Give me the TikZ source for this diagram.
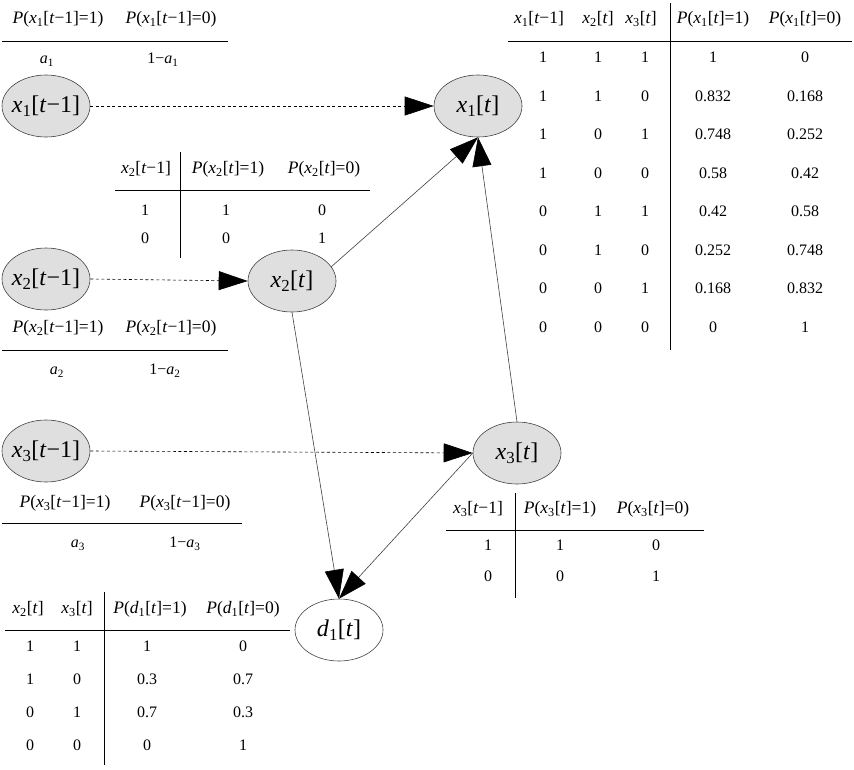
\documentclass[tikz,border=0pt]{standalone}
\usepackage{fontspec}
\setmainfont{Liberation Serif}
\usetikzlibrary{shapes.geometric,arrows.meta}

% notation helpers
\newcommand{\vr}[2]{\textit{#1}\textsubscript{#2}}
\newcommand{\mns}{−}
\newcommand{\prev}[1]{\vr{x}{#1}[\textit{t}\mns1]}
\newcommand{\cur}[1]{\vr{x}{#1}[\textit{t}]}
\newcommand{\pr}[2]{\textit{P}(#1=#2)}

\tikzset{
  state/.style={ellipse, draw=black!75, line width=0.6pt, fill=gray!25,
    minimum width=88pt, minimum height=62pt, inner xsep=-5pt, inner ysep=0pt,
    font=\fontsize{24}{26}\selectfont},
  obs/.style={state, fill=white},
  cell/.style={inner sep=0pt, text height=11pt, text depth=4pt,
    font=\fontsize{16}{18}\selectfont},
  head/.style={cell, font=\fontsize{17.5}{19}\selectfont},
  rule/.style={draw=black, line width=0.8pt},
  tip/.style={-{Triangle[length=29pt,width=19pt,color=black]}},
  temporal/.style={tip, draw=black, line width=0.6pt, dash pattern=on 3pt off 2.5pt},
  dep/.style={tip, draw=black!75, line width=0.6pt},
}

\begin{document}
\begin{tikzpicture}[x=1pt,y=-1pt]
\useasboundingbox (0,0) rectangle (854,769);

% ---- network nodes ----
\node[state] (x1p) at (46,106) {\prev1};
\node[state] (x2p) at (46,279) {\prev2};
\node[state] (x3p) at (46,451) {\prev3};
\node[state] (x1)  at (478,106) {\cur1};
\node[state] (x2)  at (292,281) {\cur2};
\node[state] (x3)  at (517,453) {\cur3};
\node[obs]   (d1)  at (339,630) {\vr{d}{1}[\textit{t}]};

% ---- connectors ----
\draw[temporal] (x1p.east) -- (x1.west);
\draw[temporal] (x2p.east) -- (x2.west);
\draw[temporal] (x3p.east) -- (x3.west);
\draw[dep] (x2.20) -- (x1.south);
\draw[dep] (x3.north) -- (x1.south);
\draw[dep] (x2.south) -- (d1.north);
\draw[dep] (x3.west) -- (d1.north);

% ---- prior of x1 ----
\node[head] (p1h1) at (58,20) {\pr{\prev1}{1}};
\node[head] (p1h0) at (171,20) {\pr{\prev1}{0}};
\draw[rule] (2,41) -- (228,41);
\node[cell] (p1v1) at (47,60) {\vr{a}{1}};
\node[cell] (p1v0) at (163,60) {1\mns\vr{a}{1}};

% ---- prior of x2 ----
\node[head] (p2h1) at (58,329) {\pr{\prev2}{1}};
\node[head] (p2h0) at (171,329) {\pr{\prev2}{0}};
\draw[rule] (2,350) -- (228,350);
\node[cell] (p2v1) at (57,371) {\vr{a}{2}};
\node[cell] (p2v0) at (165,371) {1\mns\vr{a}{2}};

% ---- prior of x3 ----
\node[head] (p3h1) at (65,504) {\pr{\prev3}{1}};
\node[head] (p3h0) at (185,504) {\pr{\prev3}{0}};
\draw[rule] (2,523) -- (242,523);
\node[cell] (p3v1) at (78,544) {\vr{a}{3}};
\node[cell] (p3v0) at (185,544) {1\mns\vr{a}{3}};

% ---- CPT of x2[t] ----
\node[head] (c2h1) at (146,170) {\prev2};
\node[head] (c2h2) at (228,170) {\pr{\cur2}{1}};
\node[head] (c2h3) at (324,170) {\pr{\cur2}{0}};
\draw[rule] (115,190) -- (370,190);
\draw[rule] (180,152) -- (180,258);
\foreach [count=\i] \a/\b/\c in {1/1/0, 0/0/1} {
  \pgfmathsetmacro\yy{212+28*(\i-1)}
  \node[cell] (c2-\i-a) at (145,\yy) {\a};
  \node[cell] (c2-\i-b) at (226,\yy) {\b};
  \node[cell] (c2-\i-c) at (322,\yy) {\c};
}

% ---- CPT of x3[t] ----
\node[head] (c3h1) at (478,510) {\prev3};
\node[head] (c3h2) at (560,510) {\pr{\cur3}{1}};
\node[head] (c3h3) at (653,510) {\pr{\cur3}{0}};
\draw[rule] (446,530) -- (704,530);
\draw[rule] (515,493) -- (515,598);
\foreach [count=\i] \a/\b/\c in {1/1/0, 0/0/1} {
  \pgfmathsetmacro\yy{547+31*(\i-1)}
  \node[cell] (c3-\i-a) at (488,\yy) {\a};
  \node[cell] (c3-\i-b) at (560,\yy) {\b};
  \node[cell] (c3-\i-c) at (656,\yy) {\c};
}

% ---- CPT of x1[t] ----
\node[head] (c1h1) at (539,20) {\prev1};
\node[head] (c1h2) at (598,20) {\cur2};
\node[head] (c1h3) at (641,20) {\cur3};
\node[head] (c1h4) at (713,20) {\pr{\cur1}{1}};
\node[head] (c1h5) at (805,20) {\pr{\cur1}{0}};
\draw[rule] (508,41) -- (852,41);
\draw[rule] (670,3) -- (670,350);
\foreach [count=\i] \a/\b/\c/\d/\e in {1/1/1/1/0, 1/1/0/0.832/0.168,
    1/0/1/0.748/0.252, 1/0/0/0.58/0.42, 0/1/1/0.42/0.58,
    0/1/0/0.252/0.748, 0/0/1/0.168/0.832, 0/0/0/0/1} {
  \pgfmathsetmacro\yy{59+38.5*(\i-1)}
  \node[cell] (c1-\i-a) at (543,\yy) {\a};
  \node[cell] (c1-\i-b) at (598,\yy) {\b};
  \node[cell] (c1-\i-c) at (645,\yy) {\c};
  \node[cell] (c1-\i-d) at (713,\yy) {\d};
  \node[cell] (c1-\i-e) at (805,\yy) {\e};
}

% ---- CPT of d1[t] ----
\node[head] (cdh1) at (28,610) {\cur2};
\node[head] (cdh2) at (77,610) {\cur3};
\node[head] (cdh3) at (150,610) {\pr{\vr{d}{1}[\textit{t}]}{1}};
\node[head] (cdh4) at (243,610) {\pr{\vr{d}{1}[\textit{t}]}{0}};
\draw[rule] (5,630) -- (290,630);
\draw[rule] (104,592) -- (104,765);
\foreach [count=\i] \a/\b/\c/\d in {1/1/1/0, 1/0/0.3/0.7, 0/1/0.7/0.3, 0/0/0/1} {
  \pgfmathsetmacro\yy{648+33*(\i-1)}
  \node[cell] (cd-\i-a) at (30,\yy) {\a};
  \node[cell] (cd-\i-b) at (77,\yy) {\b};
  \node[cell] (cd-\i-c) at (147,\yy) {\c};
  \node[cell] (cd-\i-d) at (243,\yy) {\d};
}
\end{tikzpicture}
\end{document}
